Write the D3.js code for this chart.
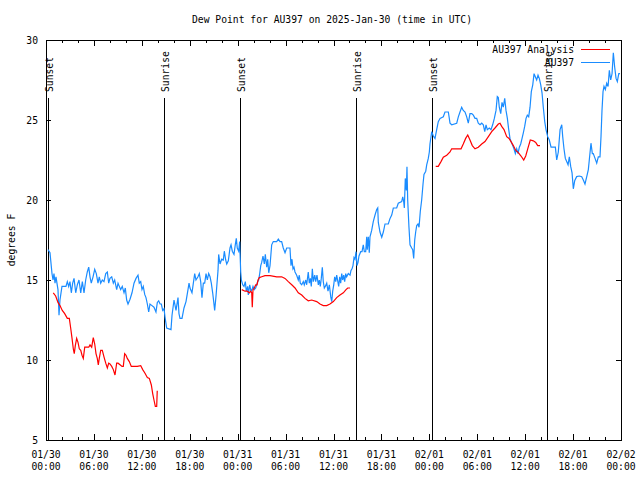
<!DOCTYPE html>
<html>
<head>
<meta charset="utf-8">
<script src="https://cdn.jsdelivr.net/npm/d3@7"></script>
<style>
html,body{margin:0;padding:0;background:#fff;}
svg{display:block;}
text{font-family:"DejaVu Sans Mono","Liberation Mono",monospace;font-size:9.7px;fill:#000;}
</style>
</head>
<body>
<svg id="chart" width="640" height="480"></svg>
<script>
// ---- data ----
const titleText = "Dew Point for AU397 on 2025-Jan-30 (time in UTC)";
const yLabelText = "degrees F";
const seriesNames = ["AU397 Analysis", "AU397"];
const yTicks = [5, 10, 15, 20, 25, 30];
const xMajorHours = [0, 6, 12, 18, 24, 30, 36, 42, 48, 54, 60, 66, 72];
const xTickDates = ["01/30","01/30","01/30","01/30","01/31","01/31","01/31","01/31","02/01","02/01","02/01","02/01","02/02"];
const xTickTimes = ["00:00","06:00","12:00","18:00","00:00","06:00","12:00","18:00","00:00","06:00","12:00","18:00","00:00"];
const sunHours = [0.31, 14.82, 24.33, 38.86, 48.37, 62.73];
const sunLabels = ["Sunset","Sunrise","Sunset","Sunrise","Sunset","Sunrise"];

// observed dew point [hours since 01/30 00:00 UTC, degF]
const obsSeries = [
[0.25,16.9],[0.50,16.7],[0.75,15.4],[0.88,15.0],[1.00,15.4],[1.13,14.8],[1.25,15.2],[1.50,14.4],[1.63,12.8],[1.75,13.75],
[2.00,14.6],[2.50,14.6],[2.67,14.9],[2.84,14.6],[3.00,14.9],[3.17,14.2],[3.34,14.8],[3.51,15.1],[3.72,14.2],[3.92,14.7],
[4.13,15.0],[4.35,14.2],[4.55,14.9],[4.76,14.2],[4.97,15.0],[5.17,15.5],[5.35,15.8],[5.51,15.2],[5.67,14.8],[5.89,15.2],
[6.10,15.67],[6.30,15.4],[6.51,14.8],[6.67,15.2],[6.85,14.8],[7.05,15.0],[7.26,14.9],[7.48,15.4],[7.68,15.5],[7.85,14.8],
[8.01,15.1],[8.23,15.2],[8.43,14.8],[8.60,15.0],[8.85,14.4],[9.02,14.8],[9.18,14.6],[9.35,14.4],[9.55,14.6],[9.77,14.2],
[9.93,14.5],[10.10,13.75],[10.27,13.5],[10.52,13.8],[10.77,14.2],[11.02,14.8],[11.27,15.1],[11.52,15.3],[11.68,14.8],[11.86,14.9],
[12.02,14.4],[12.18,14.6],[12.36,14.1],[12.52,13.9],[12.69,13.5],[12.86,13.0],[13.02,13.5],[13.27,13.4],[13.52,13.3],[13.77,13.0],
[13.94,13.6],[14.11,13.7],[14.28,13.5],[14.44,13.5],[14.61,13.1],[14.78,13.2],[14.90,12.7],[15.11,12.0],[15.65,11.9],[15.78,12.8],
[16.03,13.75],[16.28,13.1],[16.53,13.9],[16.65,12.9],[16.78,12.6],[17.03,12.6],[17.28,13.25],[17.53,13.65],[17.78,14.4],[17.91,14.8],
[18.03,14.5],[18.28,14.2],[18.45,14.8],[18.62,15.4],[18.78,15.0],[19.03,15.2],[19.20,15.4],[19.37,14.9],[19.53,13.9],[19.70,14.8],
[19.87,14.8],[20.04,15.4],[20.20,15.0],[20.37,15.4],[20.54,15.2],[20.70,14.8],[20.87,14.2],[21.00,13.65],[21.12,13.1],[21.29,14.0],
[21.54,15.6],[21.62,16.6],[21.79,16.0],[22.00,16.3],[22.20,16.25],[22.33,16.8],[22.50,16.25],[22.63,16.0],[22.83,16.2],[23.04,17.0],
[23.17,17.2],[23.33,16.8],[23.54,16.6],[23.70,17.2],[23.83,17.6],[23.95,17.0],[24.13,16.8],[24.25,17.4],[24.38,15.5],[24.46,15.0],
[24.63,14.7],[24.79,14.6],[24.96,14.9],[25.08,14.3],[25.26,14.6],[25.33,14.06],[25.51,14.7],[25.67,14.3],[25.80,14.4],[25.92,14.6],
[26.08,14.4],[26.26,14.5],[26.38,14.7],[26.51,14.9],[26.63,15.0],[26.76,15.4],[26.89,15.9],[27.01,16.1],[27.17,16.5],[27.34,16.0],
[27.46,16.6],[27.64,15.8],[27.76,16.3],[27.89,15.45],[28.05,15.9],[28.26,17.2],[28.46,17.4],[28.89,17.4],[29.09,17.56],[29.30,17.4],
[29.51,17.4],[29.71,17.0],[29.93,16.7],[30.14,17.0],[30.55,17.0],[30.68,15.9],[30.80,16.3],[30.93,15.7],[31.05,15.8],[31.18,15.5],
[31.39,15.3],[31.59,15.0],[31.72,15.3],[31.84,14.8],[32.02,14.7],[32.22,14.9],[32.34,14.7],[32.52,15.0],[32.64,14.7],[32.84,15.5],
[32.97,14.8],[33.10,15.1],[33.22,14.6],[33.35,15.7],[33.47,14.9],[33.65,15.3],[33.77,14.9],[33.93,15.3],[34.10,14.7],[34.22,15.0],
[34.35,14.6],[34.47,15.1],[34.60,15.8],[34.72,14.9],[34.85,14.5],[34.97,14.6],[35.15,14.8],[35.31,14.3],[35.48,14.7],[35.65,13.96],
[35.78,13.65],[35.90,14.3],[36.03,14.7],[36.15,15.2],[36.28,14.9],[36.40,15.3],[36.65,14.6],[36.78,15.2],[36.90,14.8],[37.03,15.4],
[37.15,15.0],[37.28,15.3],[37.40,14.9],[37.53,15.4],[37.65,15.2],[37.85,15.4],[38.07,15.3],[38.19,15.6],[38.32,15.7],[38.44,15.9],
[38.57,16.4],[38.69,16.3],[38.82,16.77],[38.94,15.9],[39.07,16.1],[39.19,16.5],[39.41,16.77],[39.57,16.77],[39.73,17.2],[39.86,16.77],
[40.03,16.77],[40.16,17.7],[40.23,16.9],[40.36,17.7],[40.48,16.7],[40.57,17.7],[40.78,18.1],[40.98,18.65],[41.20,19.06],[41.41,19.4],
[41.54,19.5],[41.61,18.6],[41.82,18.0],[42.04,17.67],[42.24,18.0],[42.45,18.5],[42.86,18.5],[43.08,18.85],[43.29,19.06],[43.49,19.5],
[43.91,19.5],[44.11,19.8],[44.54,19.9],[44.67,20.2],[44.79,19.9],[44.87,19.5],[44.99,21.35],[45.12,20.6],[45.20,22.08],[45.29,20.0],
[45.45,18.3],[45.58,17.2],[45.79,17.0],[45.92,16.9],[46.04,16.35],[46.17,17.5],[46.29,18.0],[46.42,18.4],[46.58,18.5],[46.71,18.3],
[46.87,19.3],[47.04,20.0],[47.21,21.0],[47.33,21.6],[47.55,21.8],[47.67,22.2],[47.87,22.6],[48.00,23.0],[48.08,23.5],[48.30,24.27],
[48.50,24.0],[48.71,23.85],[48.92,24.4],[49.12,24.9],[49.34,25.1],[49.75,25.2],[49.96,25.5],[50.38,25.5],[50.59,24.8],[50.80,24.7],
[51.43,24.8],[51.63,25.2],[51.84,25.5],[52.05,25.8],[52.25,25.6],[52.47,25.5],[52.68,25.2],[52.88,24.8],[53.09,25.4],[53.31,25.4],
[53.51,25.3],[53.72,25.1],[53.93,25.1],[54.13,24.8],[54.35,24.7],[54.56,24.8],[54.76,24.7],[54.94,24.27],[55.10,24.7],[55.26,24.4],
[55.51,24.5],[55.72,24.4],[55.93,24.7],[56.14,25.1],[56.35,25.6],[56.51,26.46],[56.64,26.4],[56.76,25.8],[56.94,25.4],[57.10,26.1],
[57.26,25.8],[57.44,26.35],[57.60,25.6],[57.77,25.1],[57.94,24.4],[58.10,23.85],[58.27,23.6],[58.44,23.4],[58.60,23.2],[58.77,22.9],
[58.94,23.2],[59.10,22.9],[59.27,23.3],[59.44,23.5],[59.61,23.85],[59.77,24.2],[59.94,24.6],[60.11,25.1],[60.27,25.3],[60.44,25.2],
[60.61,25.8],[60.77,26.77],[60.95,27.2],[61.11,27.9],[61.27,27.7],[61.44,27.5],[61.61,27.8],[61.77,27.6],[61.95,27.2],[62.11,26.7],
[62.27,25.8],[62.45,24.9],[62.61,24.4],[62.82,23.96],[63.02,23.75],[63.24,23.3],[63.45,23.3],[63.61,23.3],[63.78,23.3],[63.95,22.5],
[64.15,23.0],[64.37,24.4],[64.58,24.7],[64.70,23.96],[64.86,23.2],[65.03,22.6],[65.20,22.4],[65.37,22.2],[65.53,22.7],[65.70,22.1],
[65.87,21.7],[66.03,20.7],[66.20,21.2],[66.45,21.46],[66.78,21.5],[67.08,21.46],[67.28,21.25],[67.49,21.0],[67.71,21.46],[67.91,21.9],
[68.03,22.5],[68.24,23.55],[68.41,22.9],[68.53,22.9],[68.75,22.6],[68.96,22.3],[69.16,22.7],[69.37,22.7],[69.50,24.0],[69.62,25.6],
[69.75,26.77],[69.87,27.1],[70.04,26.9],[70.21,27.3],[70.38,27.1],[70.54,28.1],[70.71,27.5],[70.88,27.9],[71.04,29.2],[71.21,28.3],
[71.38,27.6],[71.54,27.4],[71.72,27.9],[71.88,27.9]
];

// analysis dew point (null = gap)
const analysisSeries = [
[0.91,14.2],[1.21,14.0],[1.50,13.6],[1.75,13.4],[2.04,13.1],[2.34,12.9],[2.67,12.6],[2.92,12.6],[3.09,12.0],[3.26,11.35],
[3.42,10.7],[3.54,10.4],[3.67,10.9],[3.84,11.35],[4.01,11.1],[4.17,10.7],[4.35,10.6],[4.51,10.3],[4.67,10.1],[4.85,10.8],
[5.35,10.8],[5.51,10.94],[5.72,10.8],[5.92,11.4],[6.10,11.0],[6.26,10.4],[6.42,10.1],[6.55,9.7],[6.67,10.1],[6.85,10.6],
[7.05,10.6],[7.26,10.2],[7.48,9.8],[7.68,9.5],[7.85,9.8],[8.01,9.75],[8.23,9.6],[8.43,9.4],[8.64,9.06],[8.85,9.8],
[9.02,9.8],[9.27,9.7],[9.52,9.6],[9.68,9.6],[9.85,10.4],[10.02,10.3],[10.18,10.1],[10.43,9.9],[10.68,9.6],[11.02,9.6],
[11.43,9.6],[11.86,9.65],[12.11,9.4],[12.36,9.2],[12.69,8.9],[12.94,8.85],[13.19,8.44],[13.36,7.9],[13.52,7.5],[13.69,7.1],
[13.86,7.1],[13.93,8.08],
null,
[24.51,14.4],[24.92,14.3],[25.21,14.3],[25.46,14.2],[25.63,14.3],[25.76,14.2],[25.83,13.3],[25.92,14.4],[26.08,14.5],[26.26,14.7],
[26.42,14.7],[26.55,15.0],[26.71,15.15],[27.01,15.2],[27.42,15.27],[28.05,15.27],[28.89,15.2],[29.51,15.2],[29.93,15.1],[30.34,14.9],
[30.77,14.7],[31.18,14.5],[31.59,14.2],[32.02,14.06],[32.43,13.85],[32.84,13.7],[33.27,13.75],[33.90,13.65],[34.31,13.5],[34.72,13.4],
[35.15,13.4],[35.56,13.5],[35.98,13.65],[36.40,13.9],[36.81,14.06],[37.23,14.2],[37.57,14.4],[37.78,14.5],[38.07,14.5],
null,
[48.80,22.1],[49.12,22.1],[49.46,22.4],[49.75,22.67],[50.18,22.8],[50.59,23.0],[50.80,23.2],[51.21,23.2],[51.97,23.2],[52.25,23.5],
[52.55,23.85],[52.81,24.06],[53.09,23.75],[53.38,23.4],[53.72,23.2],[54.13,23.3],[54.56,23.5],[54.97,23.65],[55.39,23.96],[55.81,24.27],
[56.22,24.5],[56.64,24.75],[56.85,24.8],[57.06,24.6],[57.35,24.4],[57.69,23.96],[57.98,23.85],[58.23,23.65],[58.52,23.4],[58.82,23.1],
[59.14,22.96],[59.48,22.75],[59.82,22.5],[60.07,22.75],[60.32,23.2],[60.64,23.75],[61.02,23.7],[61.32,23.6],[61.57,23.4],[61.86,23.4]
];

const colors = {analysis: "#ff0000", obs: "#1a8cff"};

// ---- chart ----
const svg = d3.select("#chart");
const L = 46, R = 621, T = 40, B = 440;
const x = d3.scaleLinear().domain([0, 72]).range([L, R]);
const y = d3.scaleLinear().domain([5, 30]).range([B, T]);
const xMinor = d3.range(0, 73, 2).filter(h => h % 6 !== 0);

// title
svg.append("text").attr("x", 332).attr("y", 23).attr("text-anchor", "middle").text(titleText);
// y label
svg.append("text").attr("transform", "translate(15,240) rotate(-90)").attr("text-anchor", "middle").text(yLabelText);

// axes (ticks inward)
const gB = svg.append("g").attr("transform", `translate(0,${B})`);
gB.call(d3.axisBottom(x).tickValues(xMajorHours).tickSize(-6).tickFormat(""));
const gBm = svg.append("g").attr("transform", `translate(0,${B})`);
gBm.call(d3.axisBottom(x).tickValues(xMinor).tickSize(-3).tickFormat(""));
const gT = svg.append("g").attr("transform", `translate(0,${T})`);
gT.call(d3.axisTop(x).tickValues(xMajorHours).tickSize(-6).tickFormat(""));
const gTm = svg.append("g").attr("transform", `translate(0,${T})`);
gTm.call(d3.axisTop(x).tickValues(xMinor).tickSize(-3).tickFormat(""));
const gL = svg.append("g").attr("transform", `translate(${L},0)`);
gL.call(d3.axisLeft(y).tickValues(yTicks).tickSize(-5).tickPadding(8));
const gR = svg.append("g").attr("transform", `translate(${R},0)`);
gR.call(d3.axisRight(y).tickValues(yTicks).tickSize(-5).tickFormat(""));
svg.selectAll(".domain").remove();
svg.selectAll(".tick line").attr("stroke", "#000").attr("shape-rendering", "crispEdges");
svg.selectAll(".tick text").attr("font-family", null).attr("font-size", null).style("font-size", "9.7px").style("font-family", "'DejaVu Sans Mono',monospace");

// x tick labels (two lines)
const xl = svg.append("g");
xMajorHours.forEach((h, i) => {
  const t = xl.append("text").attr("text-anchor", "middle");
  t.append("tspan").attr("x", x(h)).attr("y", 458).text(xTickDates[i]);
  t.append("tspan").attr("x", x(h)).attr("y", 470).text(xTickTimes[i]);
});

// sunrise / sunset lines
sunHours.forEach((h, i) => {
  const px = Math.round(x(h)) + 0.5;
  svg.append("line").attr("x1", px).attr("x2", px).attr("y1", 98).attr("y2", B)
    .attr("stroke", "#000").attr("stroke-width", 1).attr("shape-rendering", "crispEdges");
  svg.append("text").attr("transform", `translate(${px + 4},92) rotate(-90)`)
    .attr("text-anchor", "start").text(sunLabels[i]);
});

// border
svg.append("rect").attr("x", L + 0.5).attr("y", T + 0.5).attr("width", R - L).attr("height", B - T)
  .attr("fill", "none").attr("stroke", "#000").attr("shape-rendering", "crispEdges");

// lines
const line = d3.line().defined(d => d !== null).x(d => x(d[0])).y(d => y(d[1]));
svg.append("path").datum(obsSeries).attr("d", line).attr("fill", "none")
  .attr("stroke", colors.obs).attr("stroke-width", 1.2);
svg.append("path").datum(analysisSeries).attr("d", line).attr("fill", "none")
  .attr("stroke", colors.analysis).attr("stroke-width", 1.2);

// legend
const legY = [49, 62];
const legCol = [colors.analysis, colors.obs];
seriesNames.forEach((n, i) => {
  svg.append("text").attr("x", 574).attr("y", legY[i] + 3.5).attr("text-anchor", "end").text(n);
  svg.append("line").attr("x1", 581).attr("x2", 610).attr("y1", legY[i] + 0.5).attr("y2", legY[i] + 0.5)
    .attr("stroke", legCol[i]).attr("stroke-width", 1).attr("shape-rendering", "crispEdges");
});
</script>
</body>
</html>
